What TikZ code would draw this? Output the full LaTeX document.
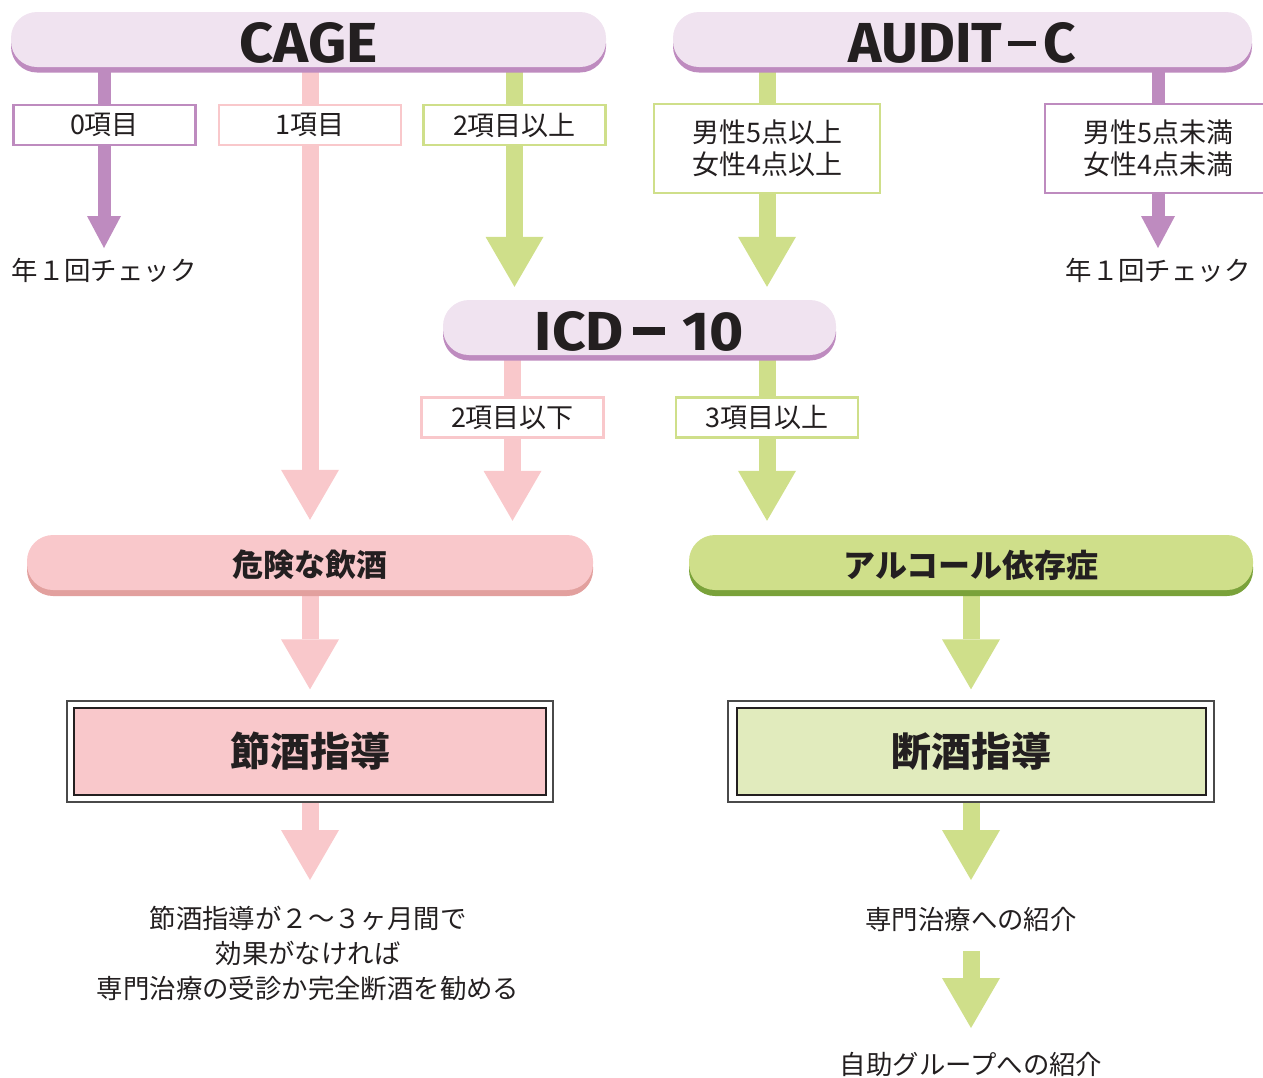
\documentclass[tikz,border=0pt]{standalone}
\usepackage{fontspec}
\newfontfamily\jp{Noto Sans CJK JP}
\newfontfamily\ttl{Fira Sans}
\usetikzlibrary{arrows.meta,shadows}
\pgfdeclarelayer{bg}
\pgfsetlayers{bg,main}
\definecolor{lav}{HTML}{F0E3F0}
\definecolor{purp}{HTML}{BE8BBF}
\definecolor{pinkc}{HTML}{F9C8CB}
\definecolor{pinkd}{HTML}{E2A09E}
\definecolor{grn}{HTML}{CFDF8A}
\definecolor{grnd}{HTML}{7AA23A}
\definecolor{grnl}{HTML}{E1EBBD}
\definecolor{txt}{HTML}{231F20}
\definecolor{frm}{HTML}{4A4A4A}
\tikzset{
  bar/.style={rounded corners=26pt, minimum height=55pt, inner sep=0pt, text=txt},
  lavbar/.style={bar, fill=lav, general shadow={fill=purp, shadow yshift=-5.5pt}},
  pinkbar/.style={bar, fill=pinkc, general shadow={fill=pinkd, shadow yshift=-6pt},
    font=\jp\bfseries\fontsize{31}{31}\selectfont},
  grnbar/.style={bar, fill=grn, general shadow={fill=grnd, shadow yshift=-6pt},
    font=\jp\bfseries\fontsize{32}{32}\selectfont},
  lab/.style={draw, line width=2.4pt, fill=white, minimum height=40pt, minimum width=182pt,
    inner sep=0pt, text=txt, font=\jp\fontsize{27}{31.5}\selectfont, align=center},
  note/.style={text=txt, font=\jp\fontsize{26.4}{35}\selectfont, align=center, inner sep=0pt},
  frame/.style={draw=frm, line width=1.3pt, fill=white, inner sep=0pt},
  core/.style={draw=txt, line width=2pt, inner sep=0pt, minimum height=87pt, text=txt,
    font=\jp\bfseries\fontsize{40}{40}\selectfont},
  big/.style={line width=17pt, -{Triangle[width=58pt,length=50pt,line width=0pt]}},
  small/.style={line width=13pt, -{Triangle[width=34pt,length=32pt,line width=0pt]}},
}
\begin{document}
\begin{tikzpicture}[x=1pt,y=-1pt]
\useasboundingbox (0,0) rectangle (1263,1077);
% title bars
\node[lavbar, minimum width=595pt, text height=46pt, text depth=0pt] (cage) at (308.5,39.5)
  {\resizebox{138pt}{40pt}{\ttl\bfseries CAGE}};
\node[lavbar, minimum width=579pt, text height=46pt, text depth=0pt] (audit) at (962.5,39.5)
  {\resizebox{228pt}{40pt}{\ttl\bfseries AUDIT\hspace{0.1em}\rule[0.29em]{0.5em}{0.1em}\hspace{0.14em}C}};
\node[lavbar, minimum width=393pt, text height=45pt, text depth=0pt] (icd) at (639.5,327.5)
  {\resizebox{209pt}{39pt}{\ttl\bfseries ICD\hspace{0.15em}\rule[0.28em]{0.55em}{0.13em}\hspace{0.3em}10}};
% labels
\node[lab, draw=purp] (l0) at (104.5,125) {0項目};
\node[lab, draw=pinkc] (l1) at (310,125) {1項目};
\node[lab, draw=grn] (l2) at (514.5,125) {2項目以上};
\node[lab, draw=grn, minimum width=226pt, minimum height=89pt] (lm1) at (767,148.5) {男性5点以上\\女性4点以上};
\node[lab, draw=purp, minimum width=226pt, minimum height=89pt] (lm2) at (1158,148.5) {男性5点未満\\女性4点未満};
\node[lab, draw=pinkc] (l3) at (512.5,417.5) {2項目以下};
\node[lab, draw=grn] (l4) at (767,417.5) {3項目以上};
% result bars
\node[pinkbar, minimum width=566pt, text height=34.3pt, text depth=5.7pt] (kiken) at (310,562.5) {危険な飲酒};
\node[grnbar, minimum width=564pt, text height=34.7pt, text depth=5.3pt] (alc) at (971,562.5) {アルコール依存症};
% guidance boxes
\node[frame, minimum width=486pt, minimum height=101pt] (setsuF) at (310,751.5) {};
\node[core, fill=pinkc, minimum width=472pt] (setsu) at (310,751.5) {節酒指導};
\node[frame, minimum width=486pt, minimum height=101pt] (danF) at (971,751.5) {};
\node[core, fill=grnl, minimum width=469pt] (dan) at (971.5,751.5) {断酒指導};
% texts
\node[note] (chk1) at (104,270) {年１回チェック};
\node[note] (chk2) at (1158,270) {年１回チェック};
\node[note] (advice) at (308,953) {節酒指導が２～３ヶ月間で\\効果がなければ\\専門治療の受診か完全断酒を勧める};
\node[note] (sen) at (971,919) {専門治療への紹介};
\node[note] (jijo) at (971,1064) {自助グループへの紹介};
\coordinate (t10) at (310,880);
\coordinate (t11) at (971,880);
% arrows
\begin{pgfonlayer}{bg}
\draw[small, purp, shorten >=22pt] (cage.center -| chk1.center) -- (chk1.center);
\draw[big, pinkc, shorten >=15pt] (cage.center -| kiken.center) -- (kiken.north);
\draw[big, grn, shorten >=13pt] (cage.center -| l2.center) -- (icd.north -| l2.center);
\draw[big, grn, shorten >=13pt] (audit.center -| lm1.center) -- (icd.north -| lm1.center);
\draw[small, purp, shorten >=22pt] (audit.center -| chk2.center) -- (chk2.center);
\draw[big, pinkc, shorten >=14pt] (icd.center -| l3.center) -- (kiken.north -| l3.center);
\draw[big, grn, shorten >=14pt] (icd.center -| l4.center) -- (alc.north -| l4.center);
\draw[big, pinkc, shorten >=11pt] (kiken.center) -- (setsuF.north);
\draw[big, grn, shorten >=11pt] (alc.center) -- (danF.north);
\draw[big, pinkc] (setsuF.center) -- (t10);
\draw[big, grn] (danF.center) -- (t11);
\draw[big, grn, shorten <=32pt, shorten >=36pt] (sen.center) -- (jijo.center);
\end{pgfonlayer}
\end{tikzpicture}
\end{document}
